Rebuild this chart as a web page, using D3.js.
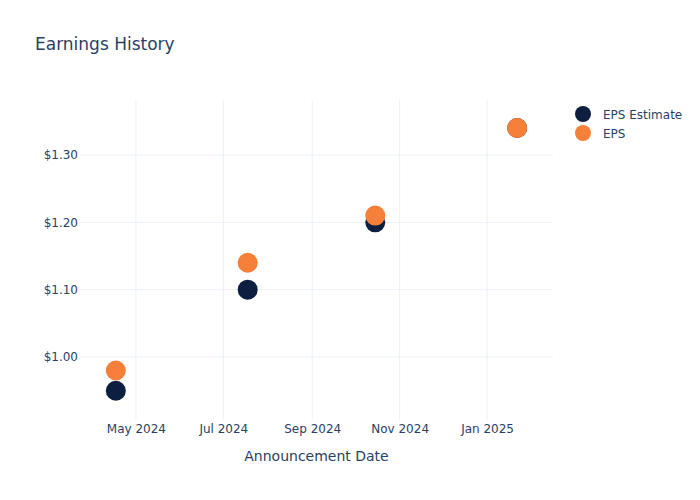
<!DOCTYPE html>
<html lang="en">
<head>
  <meta charset="UTF-8">
  <title>Earnings History</title>
  <style>
    body { margin: 0; background: #fff; }
    text { font-family: "DejaVu Sans", sans-serif; fill: #2a3f5f; }
    .grid line { stroke: #ebf0f8; stroke-width: 1; }
  </style>
</head>
<body>
  <div id="chart"></div>
  <script src="https://d3js.org/d3.v7.min.js"></script>
  <script>
    // Announcement dates and values
    const dates = ["2024-04-17", "2024-07-18", "2024-10-15", "2025-01-22"];
    const epsEstimate = [0.95, 1.10, 1.20, 1.34];
    const eps = [0.98, 1.14, 1.21, 1.34];
    const yTicks = [1.00, 1.10, 1.20, 1.30];
    const xTicks = ["2024-05-01", "2024-07-01", "2024-09-01", "2024-11-01", "2025-01-01"];
    const seriesNames = ["EPS Estimate", "EPS"];
    const colors = ["#0c1f40", "#f6803a"];

    const width = 700, height = 500;
    const margin = { top: 100, right: 147, bottom: 80, left: 80 };
    const parse = d3.timeParse("%Y-%m-%d");

    const svg = d3.select("#chart").append("svg")
      .attr("width", width)
      .attr("height", height);

    const x = d3.scaleTime()
      .domain([parse("2024-03-23"), parse("2025-02-16")])
      .range([margin.left, width - margin.right]);

    const y = d3.scaleLinear()
      .domain([0.9065, 1.3816])
      .range([height - margin.bottom, margin.top]);

    // Gridlines
    const grid = svg.append("g").attr("class", "grid");
    grid.selectAll(".vx")
      .data(xTicks)
      .enter().append("line")
      .attr("x1", d => x(parse(d))).attr("x2", d => x(parse(d)))
      .attr("y1", margin.top).attr("y2", height - margin.bottom);
    grid.selectAll(".hy")
      .data(yTicks)
      .enter().append("line")
      .attr("x1", margin.left).attr("x2", width - margin.right)
      .attr("y1", d => y(d)).attr("y2", d => y(d));

    // Axes (labels only, like plotly)
    const xAxis = svg.append("g")
      .attr("transform", `translate(0,${height - margin.bottom})`)
      .call(d3.axisBottom(x)
        .tickValues(xTicks.map(parse))
        .tickFormat(d3.timeFormat("%b %Y"))
        .tickSize(0)
        .tickPadding(4));
    xAxis.select(".domain").remove();
    xAxis.selectAll("text").style("font-size", "12px").attr("fill", "#2a3f5f");

    const yAxis = svg.append("g")
      .attr("transform", `translate(${margin.left},0)`)
      .call(d3.axisLeft(y)
        .tickValues(yTicks)
        .tickFormat(d => "$" + d3.format(".2f")(d))
        .tickSize(0)
        .tickPadding(2));
    yAxis.select(".domain").remove();
    yAxis.selectAll("text").style("font-size", "12px").attr("fill", "#2a3f5f");

    // Title and axis title
    svg.append("text")
      .attr("x", 35).attr("y", 50)
      .style("font-size", "17px")
      .text("Earnings History");

    svg.append("text")
      .attr("x", (margin.left + width - margin.right) / 2)
      .attr("y", 461)
      .attr("text-anchor", "middle")
      .style("font-size", "14px")
      .text("Announcement Date");

    // Points
    const series = [epsEstimate, eps];
    series.forEach((vals, i) => {
      svg.append("g")
        .selectAll("circle")
        .data(vals)
        .enter().append("circle")
        .attr("cx", (d, j) => x(parse(dates[j])))
        .attr("cy", d => y(d))
        .attr("r", 10)
        .attr("fill", colors[i]);
    });

    // Legend
    const legend = svg.append("g").attr("transform", "translate(583,114)");
    seriesNames.forEach((name, i) => {
      legend.append("circle")
        .attr("cx", 0).attr("cy", i * 19)
        .attr("r", 8)
        .attr("fill", colors[i]);
      legend.append("text")
        .attr("x", 20).attr("y", i * 19 + 4.5)
        .style("font-size", "12px")
        .text(name);
    });
  </script>
</body>
</html>
